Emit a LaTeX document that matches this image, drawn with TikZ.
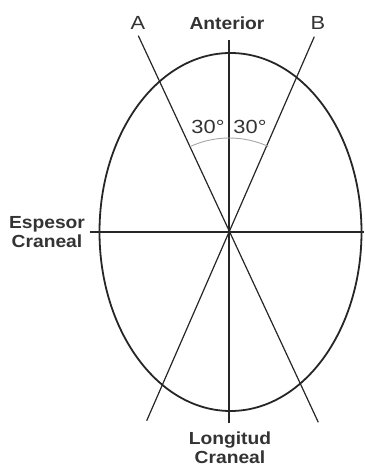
\documentclass[tikz,border=0pt]{standalone}
\usepackage{fontspec}
\setmainfont{Liberation Sans}
\newfontfamily\boldwide[FakeStretch=1.1]{Liberation Sans Bold}
\newfontfamily\plainwide[FakeStretch=1.15]{Liberation Sans}
\begin{document}
\begin{tikzpicture}[x=1pt,y=1pt,
  axis/.style={line width=1.2pt,black!85},
  rim/.style={line width=1.8pt,black!85},
  anglearc/.style={line width=0.9pt,black!35},
  bold label/.style={font=\boldwide\fontsize{17.5}{19}\selectfont,text=black!80,align=center,inner sep=0pt},
  plain label/.style={font=\plainwide\fontsize{19}{22}\selectfont,text=black!80,inner sep=0pt}]
\useasboundingbox (0,0) rectangle (364,468);
\coordinate (O) at (229.3,236);
\coordinate (E) at (230.5,236);
\coordinate (Vt) at (229,428);
\coordinate (Vb) at (229,45);
\coordinate (Hl) at (90,236);
\coordinate (Hr) at (364,236);
\coordinate (At) at (138.3,432.3);
\coordinate (Ab) at (318.3,45.7);
\coordinate (Bt) at (314.3,431.3);
\coordinate (Bb) at (146.7,47.3);
\draw[rim] (E) ellipse[x radius=131, y radius=179];
\draw[axis] (Vt) -- (Vb);
\draw[axis] (Hl) -- (Hr);
\draw[axis] (At) -- (Ab);
\draw[axis] (Bt) -- (Bb);
\draw[anglearc] (O) ++(114.5:94) arc[start angle=114.5, end angle=65.5, radius=94];
\node[plain label] (la) at (138,445) {A};
\node[plain label] (lb) at (318,445) {B};
\node[bold label] (lant) at (227,445) {Anterior};
\node[plain label] (l30a) at (208,341) {30°};
\node[plain label] (l30b) at (250,341) {30°};
\node[bold label] (lesp) at (47,236) {Espesor\\Craneal};
\node[bold label] (llon) at (230,20) {Longitud\\Craneal};
\end{tikzpicture}
\end{document}
